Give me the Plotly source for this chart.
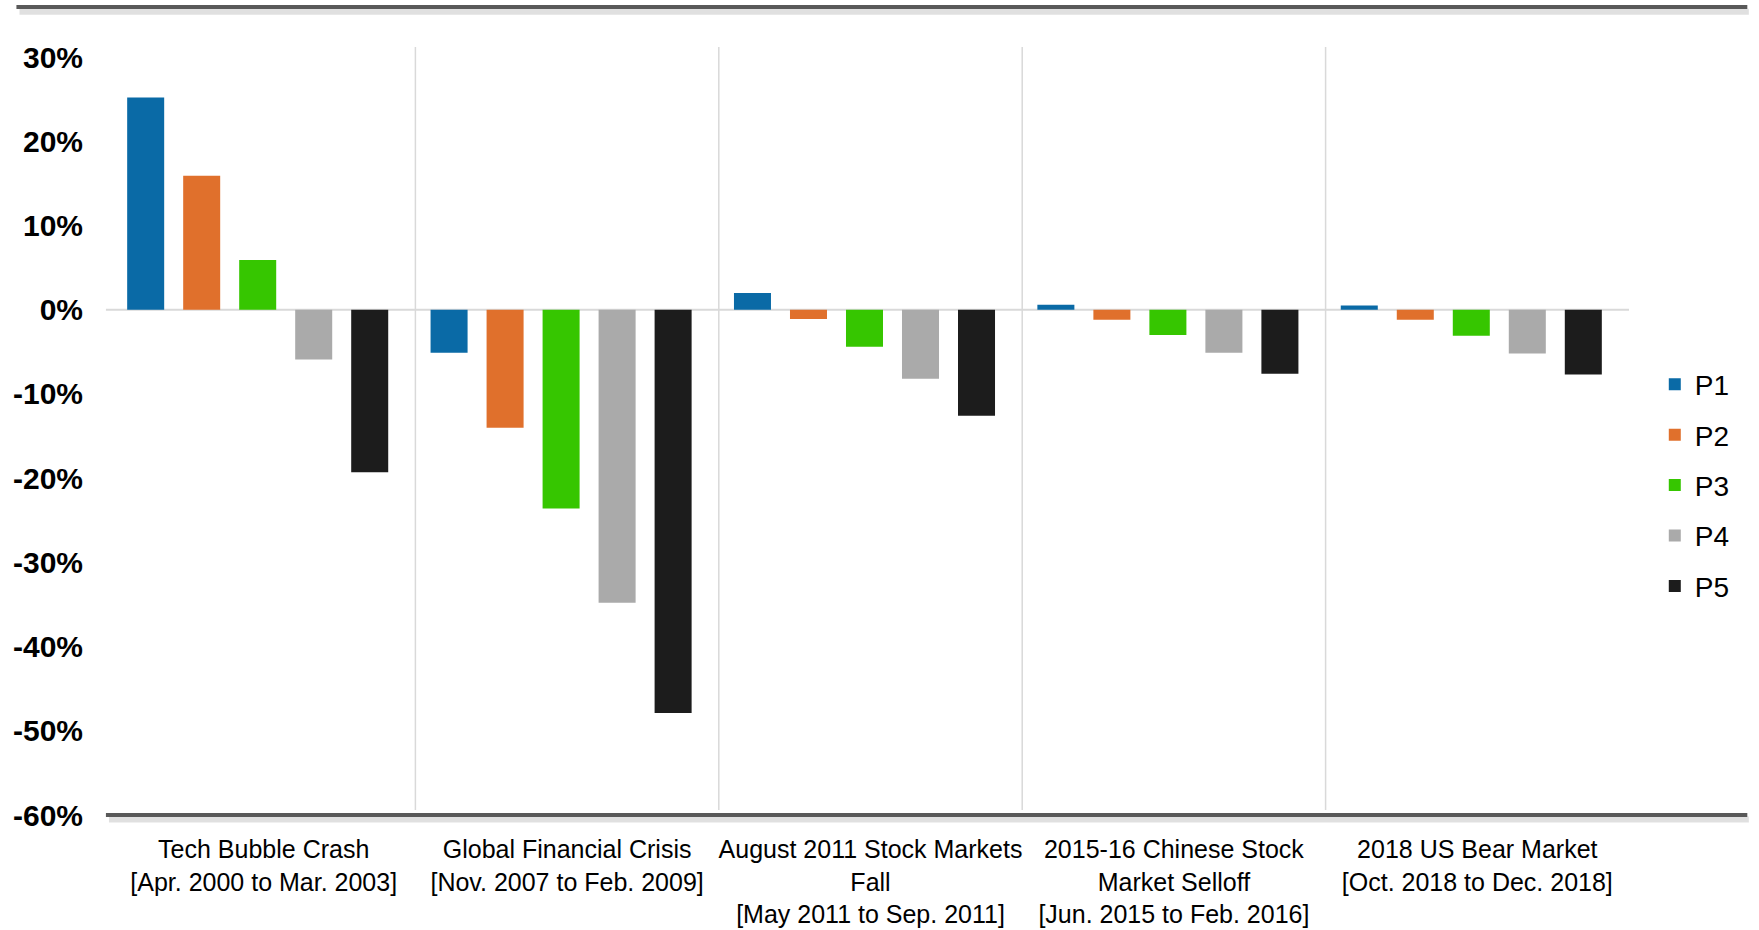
import plotly.graph_objects as go

categories = [
    "Tech Bubble Crash<br>[Apr. 2000 to Mar. 2003]",
    "Global Financial Crisis<br>[Nov. 2007 to Feb. 2009]",
    "August 2011 Stock Markets<br>Fall<br>[May 2011 to Sep. 2011]",
    "2015-16 Chinese Stock<br>Market Selloff<br>[Jun. 2015 to Feb. 2016]",
    "2018 US Bear Market<br>[Oct. 2018 to Dec. 2018]",
]
series_names = ["P1", "P2", "P3", "P4", "P5"]
p1 = [25.2, -5.1, 2.0, 0.6, 0.5]
p2 = [15.9, -14.0, -1.1, -1.2, -1.2]
p3 = [5.9, -23.6, -4.4, -3.0, -3.1]
p4 = [-5.9, -34.8, -8.2, -5.1, -5.2]
p5 = [-19.3, -47.9, -12.6, -7.6, -7.7]
series_values = [p1, p2, p3, p4, p5]
colors = ["#0a6aa6", "#e0702c", "#36c600", "#aaaaaa", "#1c1c1c"]
tick_vals = [30, 20, 10, 0, -10, -20, -30, -40, -50, -60]
tick_text = ["30%", "20%", "10%", "0%", "-10%", "-20%", "-30%", "-40%", "-50%", "-60%"]

font_main = "Liberation Sans, Arial, sans-serif"

fig = go.Figure()
for i, (name, vals, col) in enumerate(zip(series_names, series_values, colors)):
    fig.add_trace(go.Bar(
        x=categories, y=vals, name=name, legendgroup=name,
        offset=-0.45 + i * 0.1846, width=0.122,
        marker=dict(color=col, line=dict(width=0)),
    ))

shapes = []
# category dividers
for i in range(4):
    shapes.append(dict(type="line", xref="x", yref="y", x0=i + 0.5, x1=i + 0.5,
                       y0=-59.4, y1=31.2, line=dict(color="#d9d9d9", width=1.5), layer="below"))
# zero line
shapes.append(dict(type="line", xref="paper", yref="y", x0=-0.004, x1=1.0, y0=0, y1=0,
                   line=dict(color="#d9d9d9", width=2), layer="below"))
# bottom axis line with soft shadow
shapes.append(dict(type="line", xref="paper", yref="paper", x0=-0.002, x1=1.079, y0=-0.006, y1=-0.006,
                   line=dict(color="rgba(0,0,0,0.12)", width=6)))
shapes.append(dict(type="line", xref="paper", yref="paper", x0=-0.004, x1=1.078, y0=0.0, y1=0.0,
                   line=dict(color="#595959", width=4)))
# top decorative line
shapes.append(dict(type="line", xref="paper", yref="paper", x0=-0.061, x1=1.079, y0=1.046, y1=1.046,
                   line=dict(color="rgba(0,0,0,0.12)", width=6)))
shapes.append(dict(type="line", xref="paper", yref="paper", x0=-0.063, x1=1.078, y0=1.052, y1=1.052,
                   line=dict(color="#595959", width=4)))

fig.update_layout(
    width=1759, height=930,
    margin=dict(l=112, r=130, t=47, b=115),
    paper_bgcolor="white", plot_bgcolor="white",
    barmode="group",
    shapes=shapes,
    showlegend=True,
    legend=dict(x=1.017, y=0.593, xanchor="left", yanchor="top",
                font=dict(family=font_main, size=28, color="#000"),
                tracegroupgap=11, itemwidth=30, bgcolor="rgba(0,0,0,0)"),
    xaxis=dict(showgrid=False, zeroline=False, showline=False, ticks="",
               tickfont=dict(family=font_main, size=25, color="#000"),
               ticklabelstandoff=17,
               range=[-0.5, 4.5], tickangle=0, automargin=False),
    yaxis=dict(range=[-60, 31.2], tickvals=tick_vals, ticktext=tick_text,
               showgrid=False, zeroline=False, showline=False, ticks="",
               tickfont=dict(family=font_main, size=30, color="#000", weight="bold"),
               ticklabelstandoff=28, automargin=False),
    font=dict(family=font_main),
)

fig.write_html("out.html")
